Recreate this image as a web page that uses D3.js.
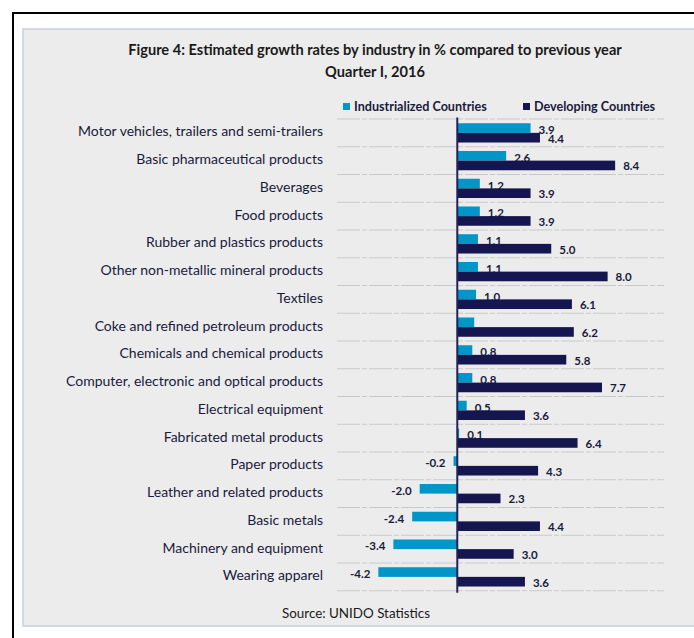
<!DOCTYPE html>
<html>
<head>
<meta charset="utf-8">
<script src="https://cdn.jsdelivr.net/npm/d3@7/dist/d3.min.js"></script>
<style>
  html, body { margin: 0; padding: 0; background: #ffffff; }
  svg { display: block; }
  text { font-family: Lato, "Open Sans", sans-serif; }
</style>
</head>
<body>
<svg id="chart" width="694" height="638"></svg>
<script>
// Industry categories, top to bottom
const categories = [
  "Motor vehicles, trailers and semi-trailers",
  "Basic pharmaceutical products",
  "Beverages",
  "Food products",
  "Rubber and plastics products",
  "Other non-metallic mineral products",
  "Textiles",
  "Coke and refined petroleum products",
  "Chemicals and chemical products",
  "Computer, electronic and optical products",
  "Electrical equipment",
  "Fabricated metal products",
  "Paper products",
  "Leather and related products",
  "Basic metals",
  "Machinery and equipment",
  "Wearing apparel"
];

// Growth rates in % compared to previous year, Quarter I 2016
const industrialized = [3.9, 2.6, 1.2, 1.2, 1.1, 1.1, 1.0, 0.9, 0.8, 0.8, 0.5, 0.1, -0.2, -2.0, -2.4, -3.4, -4.2];
const developing     = [4.4, 8.4, 3.9, 3.9, 5.0, 8.0, 6.1, 6.2, 5.8, 7.7, 3.6, 6.4, 4.3, 2.3, 4.4, 3.0, 3.6];
// value labels shown for the industrialized series (null = no label)
const industrializedLabels = ["3.9", "2.6", "1.2", "1.2", "1.1", "1.1", "1.0", null, "0.8", "0.8", "0.5", "0.1", "-0.2", "-2.0", "-2.4", "-3.4", "-4.2"];

const seriesNames = ["Industrialized Countries", "Developing Countries"];
const xDomain = [-6.4, 11.0];

const colors = { ind: "#0096c8", dev: "#15154f" };
const textColor = "#1a1a3c";

const svg = d3.select("#chart");

// frame and panel
svg.append("rect")
  .attr("x", 13).attr("y", 13).attr("width", 720).attr("height", 720)
  .attr("fill", "none").attr("stroke", "#000").attr("stroke-width", 2);
svg.append("rect")
  .attr("x", 23).attr("y", 29).attr("width", 700).attr("height", 597)
  .attr("fill", "#ececec").attr("stroke", "#c8d0d9").attr("stroke-width", 1.5);

// title
const title = svg.append("text")
  .attr("text-anchor", "middle")
  .attr("font-weight", "bold").attr("font-size", 14.6)
  .attr("fill", "#1a1a1a");
title.append("tspan").attr("x", 375).attr("y", 55)
  .text("Figure 4: Estimated growth rates by industry in % compared to previous year");
title.append("tspan").attr("x", 375).attr("y", 77)
  .text("Quarter I, 2016");

// scales
const x = d3.scaleLinear().domain(xDomain).range([337, 664]);
const y = d3.scaleBand().domain(categories).range([119, 590.75]).padding(0);
const sub = d3.scaleBand().domain(["ind", "dev"]).range([0, y.step()])
  .paddingInner(0).paddingOuter(0.44);

// category gridlines at band boundaries
const boundaries = d3.range(categories.length + 1).map(i => y.range()[0] + i * y.step());
svg.append("g").selectAll("line").data(boundaries).join("line")
  .attr("x1", x.range()[0]).attr("x2", x.range()[1])
  .attr("y1", d => d).attr("y2", d => d)
  .attr("stroke", "#c9c9c9").attr("stroke-width", 1.2)
  .attr("stroke-dasharray", "23,2,5,2");

// category labels (left axis)
const yAxis = d3.axisLeft(y).tickSize(0).tickPadding(0);
const gy = svg.append("g").attr("transform", "translate(323,-1)").call(yAxis);
gy.select(".domain").remove();
gy.selectAll("text")
  .attr("font-size", 14).attr("fill", textColor)
  .style("font-family", "Lato, sans-serif");

const rows = categories.map((c, i) => ({
  cat: c, ind: industrialized[i], dev: developing[i], indLabel: industrializedLabels[i]
}));

// industrialized bars
svg.append("g").selectAll("rect").data(rows).join("rect")
  .attr("x", d => x(Math.min(0, d.ind)))
  .attr("width", d => Math.abs(x(d.ind) - x(0)))
  .attr("y", d => y(d.cat) + sub("ind"))
  .attr("height", sub.bandwidth())
  .attr("fill", colors.ind);

// industrialized value labels (drawn beneath the developing bars)
svg.append("g").selectAll("text").data(rows.filter(d => d.indLabel !== null)).join("text")
  .attr("x", d => d.ind >= 0 ? x(d.ind) + 8 : x(d.ind) - 8)
  .attr("y", d => y(d.cat) + sub("ind") + sub.bandwidth() / 2 + 2)
  .attr("dy", "0.35em")
  .attr("text-anchor", d => d.ind >= 0 ? "start" : "end")
  .attr("font-size", 11.5).attr("font-weight", "bold").attr("fill", textColor)
  .text(d => d.indLabel);

// developing bars
svg.append("g").selectAll("rect").data(rows).join("rect")
  .attr("x", d => x(Math.min(0, d.dev)))
  .attr("width", d => Math.abs(x(d.dev) - x(0)))
  .attr("y", d => y(d.cat) + sub("dev"))
  .attr("height", sub.bandwidth())
  .attr("fill", colors.dev);

// developing value labels
svg.append("g").selectAll("text").data(rows).join("text")
  .attr("x", d => x(d.dev) + 8)
  .attr("y", d => y(d.cat) + sub("dev") + sub.bandwidth() / 2 + 1)
  .attr("dy", "0.35em")
  .attr("font-size", 11.5).attr("font-weight", "bold").attr("fill", textColor)
  .text(d => d3.format(".1f")(d.dev));

// zero axis line
svg.append("line")
  .attr("x1", x(0)).attr("x2", x(0))
  .attr("y1", y.range()[0] - 1.5).attr("y2", y.range()[1] + 2)
  .attr("stroke", "#23235a").attr("stroke-width", 2);

// legend
const legend = svg.append("g");
const legendItems = [
  { name: seriesNames[0], color: colors.ind, x: 343 },
  { name: seriesNames[1], color: colors.dev, x: 523 }
];
legendItems.forEach(it => {
  legend.append("rect").attr("x", it.x).attr("y", 103).attr("width", 7).attr("height", 7)
    .attr("fill", it.color);
  legend.append("text").attr("x", it.x + 11).attr("y", 110.5)
    .attr("font-size", 12.6).attr("font-weight", "bold").attr("fill", textColor)
    .text(it.name);
});

// source note
svg.append("text")
  .attr("x", 356).attr("y", 618).attr("text-anchor", "middle")
  .attr("font-size", 13.4).attr("fill", "#1a1a1a")
  .text("Source: UNIDO Statistics");
</script>
</body>
</html>
